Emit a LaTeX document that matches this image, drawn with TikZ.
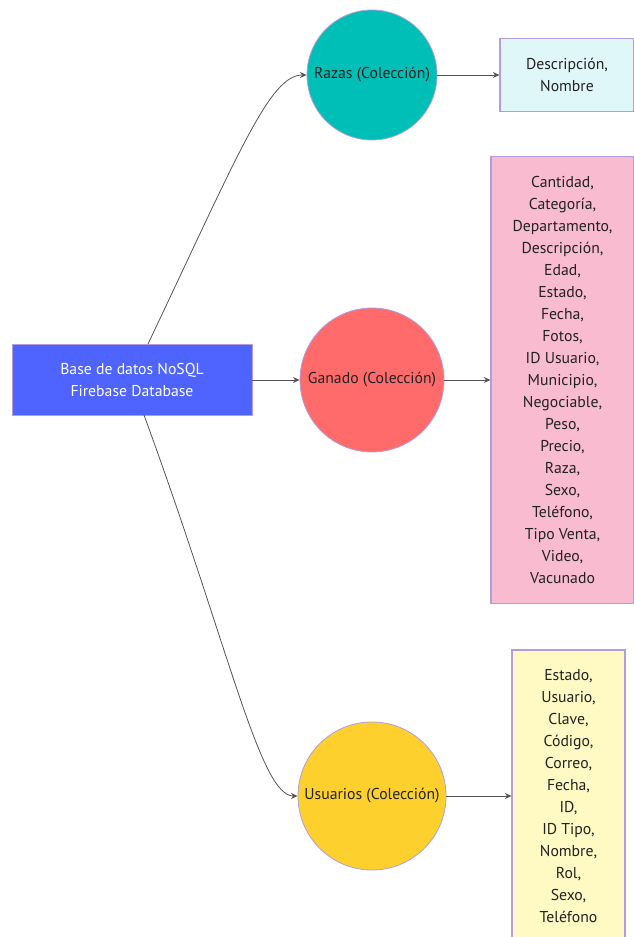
\documentclass[tikz,border=0pt]{standalone}
\usepackage{fontspec}
\setmainfont{PT Sans}
\usetikzlibrary{arrows.meta}

\definecolor{dbblue}{HTML}{4F63FF}
\definecolor{razteal}{HTML}{00BFB6}
\definecolor{ganred}{HTML}{FF6B6B}
\definecolor{usuyel}{HTML}{FDD02E}
\definecolor{fldcyan}{HTML}{E0F7FA}
\definecolor{fldpink}{HTML}{F8BBD0}
\definecolor{fldyel}{HTML}{FFF9C4}
\definecolor{edgepur}{HTML}{B39DDB}
\definecolor{linegray}{HTML}{555555}
\definecolor{txtdark}{HTML}{222222}

\begin{document}
\begin{tikzpicture}[x=0.75pt,y=-0.75pt,
		font=\fontsize{11.8}{16.5}\selectfont,text=txtdark,
		coll/.style={circle,draw=edgepur,line width=.6pt,inner sep=0pt},
		fields/.style={rectangle,draw=edgepur,line width=.8pt,align=center,inner sep=0pt},
		link/.style={draw=linegray,line width=.6pt,-{Stealth[length=5pt,width=4.5pt]}}]
			\useasboundingbox (0,0) rectangle (634,937);
			
			\node [rectangle,fill=dbblue,draw=edgepur,line width=.6pt,text=white,align=center,
				minimum width=240*.75pt,minimum height=71*.75pt] (db) at (132,380)
				{Base de datos NoSQL\\Firebase Database};
			
			\node [coll,fill=razteal,minimum size=130*.75pt] (razas) at (372,75) {Razas (Colección)};
			\node [coll,fill=ganred,minimum size=144*.75pt] (ganado) at (372,380) {Ganado (Colección)};
			\node [coll,fill=usuyel,minimum size=148*.75pt] (usuarios) at (372,796) {Usuarios (Colección)};
			
			\node [fields,fill=fldcyan,minimum width=134*.75pt,minimum height=73*.75pt] (frazas) at (567,75)
				{Descripción,\\Nombre};
			\node [fields,fill=fldpink,minimum width=143*.75pt,minimum height=447*.75pt] (fganado) at (562.5,380)
				{Cantidad,\\Categoría,\\Departamento,\\Descripción,\\Edad,\\Estado,\\Fecha,\\Fotos,\\ID Usuario,\\Municipio,\\Negociable,\\Peso,\\Precio,\\Raza,\\Sexo,\\Teléfono,\\Tipo Venta,\\Video,\\Vacunado};
			\node [fields,fill=fldyel,minimum width=113*.75pt,minimum height=292*.75pt] (fusuarios) at (568.5,796)
				{Estado,\\Usuario,\\Clave,\\Código,\\Correo,\\Fecha,\\ID,\\ID Tipo,\\Nombre,\\Rol,\\Sexo,\\Teléfono};
			
			\coordinate (dbtop) at (148,344);
			\coordinate (dbbot) at (144,415);
			\draw [link] (dbtop) .. controls (240,150) and (270,75) .. (razas.west);
			\draw [link] (db.east) -- (ganado.west);
			\draw [link] (dbbot) .. controls (230,650) and (260,796) .. (usuarios.west);
			
			\draw [link] (razas.east) -- (frazas.west);
			\draw [link] (ganado.east) -- (fganado.west);
			\draw [link] (usuarios.east) -- (fusuarios.west);
			\end{tikzpicture}
\end{document}
